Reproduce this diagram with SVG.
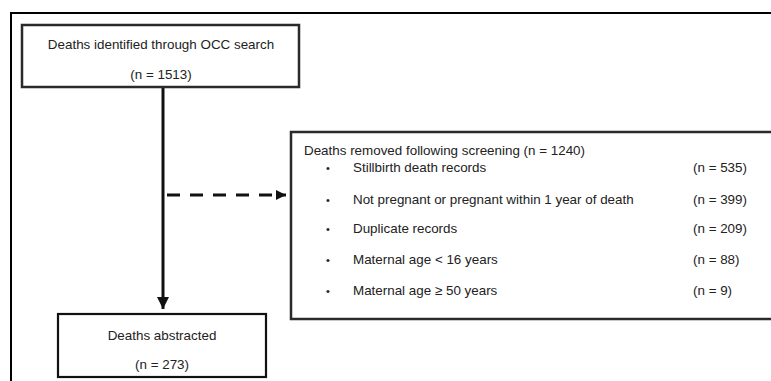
<svg xmlns="http://www.w3.org/2000/svg" width="771" height="381" viewBox="0 0 771 381">
<defs>
<style>
text{font-family:"Liberation Sans",Arial,sans-serif;font-size:13.4px;fill:#222}
.c{text-anchor:middle}
.b{font-size:11px}
.box{fill:#fff;stroke:#2a2a2a;stroke-width:2.5}
.frame{fill:none;stroke:#000;stroke-width:2}
.conn{stroke:#111;stroke-width:3;fill:none}
</style>
<marker id="ah" viewBox="0 0 10 10" refX="10" refY="5" markerWidth="10" markerHeight="10" markerUnits="userSpaceOnUse" orient="auto"><path d="M0,0L10,5L0,10Z" fill="#111"/></marker>
<marker id="ah2" viewBox="0 0 12 12" refX="12" refY="6" markerWidth="12" markerHeight="12" markerUnits="userSpaceOnUse" orient="auto"><path d="M0,0L12,6L0,12Z" fill="#111"/></marker>
</defs>
<path class="frame" d="M11,382V13H772"/>
<g id="connectors">
<line class="conn" x1="163" y1="87" x2="163" y2="309" marker-end="url(#ah2)"/>
<line class="conn" x1="163" y1="195" x2="286" y2="195" stroke-dasharray="13 10" stroke-dashoffset="-4" marker-end="url(#ah)"/>
</g>
<g id="n1">
<rect class="box" x="22" y="25" width="277" height="62"/>
<text class="c" x="161" y="49">Deaths identified through OCC search</text>
<text class="c" x="161" y="79">(n = 1513)</text>
</g>
<g id="n2">
<rect class="box" x="291" y="132" width="500" height="187"/>
<text x="304" y="155">Deaths removed following screening (n = 1240)</text>
<g>
<text class="b" x="326" y="172">•</text><text x="353" y="172">Stillbirth death records</text><text x="693" y="172">(n = 535)</text>
<text class="b" x="326" y="204">•</text><text x="353" y="204">Not pregnant or pregnant within 1 year of death</text><text x="693" y="204">(n = 399)</text>
<text class="b" x="326" y="233">•</text><text x="353" y="233">Duplicate records</text><text x="693" y="233">(n = 209)</text>
<text class="b" x="326" y="264">•</text><text x="353" y="264">Maternal age &lt; 16 years</text><text x="693" y="264">(n = 88)</text>
<text class="b" x="326" y="295">•</text><text x="353" y="295">Maternal age ≥ 50 years</text><text x="693" y="295">(n = 9)</text>
</g>
</g>
<g id="n3">
<rect class="box" x="58" y="314" width="208" height="63" style="stroke:#111;stroke-width:2.2"/>
<text class="c" x="162" y="340">Deaths abstracted</text>
<text class="c" x="162" y="369">(n = 273)</text>
</g>
</svg>
